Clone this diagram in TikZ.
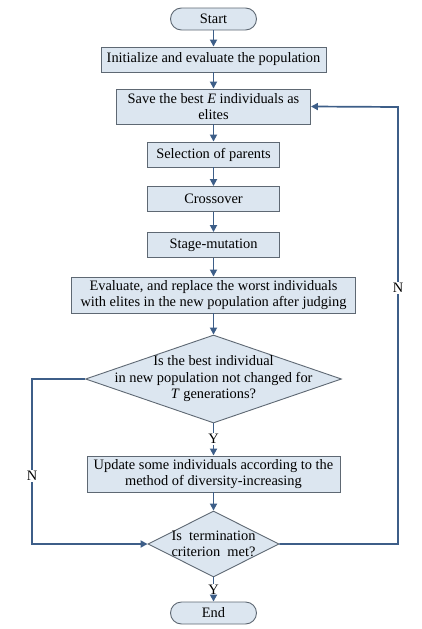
\documentclass[tikz,border=0pt]{standalone}
\usepackage{fontspec}
\setmainfont{Liberation Serif}
\usetikzlibrary{shapes,arrows.meta}

\definecolor{boxfill}{HTML}{DCE6F0}
\definecolor{boxline}{HTML}{5E6873}
\definecolor{arrowblue}{HTML}{3D5E88}

\begin{document}
\begin{tikzpicture}[x=1pt, y=1pt, auto, font=\fontsize{14.4}{16}\selectfont]
				\tikzstyle{block} = [rectangle, draw=boxline, line width=0.9pt, fill=boxfill, align=center, minimum height=25pt, inner sep=1pt]
				\tikzstyle{terminal} = [block, rounded corners=11pt, minimum height=22pt, minimum width=86pt]
				\tikzstyle{decision} = [diamond, draw=boxline, line width=0.9pt, fill=boxfill, inner sep=0pt]
				\tikzstyle{lab} = [fill=white, inner sep=1pt]
				\tikzstyle{line} = [draw=arrowblue, line width=1.7pt, -{Triangle[length=7pt, width=7pt]}]
				\tikzstyle{plain} = [draw=arrowblue, line width=1.7pt]
				
				\useasboundingbox (0,0) rectangle (421,-629);
				
				\node [terminal] (start) at (213.5,-19) {Start};
				\node [block, below of=start, node distance=40.5pt, minimum width=225pt] (init) {Initialize and evaluate the population};
				\node [block, below of=init, node distance=47pt, minimum width=194pt, minimum height=35pt] (save) {Save the best \textit{E} individuals as\\elites};
				\node [block, below of=save, node distance=48pt, minimum width=132pt] (select) {Selection of parents};
				\node [block, below of=select, node distance=44.5pt, minimum width=132pt] (cross) {Crossover};
				\node [block, below of=cross, node distance=46pt, minimum width=132pt] (mutate) {Stage-mutation};
				\node [block, below of=mutate, node distance=50pt, minimum width=284pt, minimum height=36pt] (evaluate) {Evaluate, and replace the worst individuals\\with elites in the new population after judging};
				\node [decision, below of=evaluate, node distance=84pt, minimum width=256pt, minimum height=88pt,
					label={[align=center, font=\fontsize{14.4}{16.5}\selectfont]center:Is the best individual\\in new population not changed for\\\textit{T} generations?}] (stagnant) {};
				\node [block, below of=stagnant, node distance=95pt, minimum width=253pt, minimum height=36pt] (update) {Update some individuals according to the\\method of diversity-increasing};
				\node [decision, below of=update, node distance=70pt, minimum width=131pt, minimum height=66pt,
					label={[align=center, font=\fontsize{14.4}{16.5}\selectfont]center:Is~ termination\\criterion~ met?}] (finish) {};
				\node [terminal, below of=finish, node distance=69pt] (end) {End};
				
				\node [lab] (yes1) at (213.5,-439) {Y};
				\node [lab] (yes2) at (213.5,-590) {Y};
				\coordinate (leftx) at (32,-379);
				\coordinate (rightx) at (398,-107);
				
				\path [line] (start) -- (init);
				\path [line] (init) -- (save);
				\path [line] (save) -- (select);
				\path [line] (select) -- (cross);
				\path [line] (cross) -- (mutate);
				\path [line] (mutate) -- (evaluate);
				\path [line] (evaluate) -- (stagnant);
				\path [plain] (stagnant.south) -- (yes1);
				\path [line] (yes1) -- (update);
				\path [line] (update) -- (finish);
				\path [plain] (finish.south) -- (yes2);
				\path [line] (yes2) -- (end);
				\path [line] (stagnant.west) -- (leftx) |- (finish.west);
				\path [line] (finish.east) -| (rightx) -- (save.east);
				
				\node [lab] (noleft) at (32,-476) {N};
				\node [lab] (noright) at (398,-288) {N};
				
			\end{tikzpicture}
\end{document}
